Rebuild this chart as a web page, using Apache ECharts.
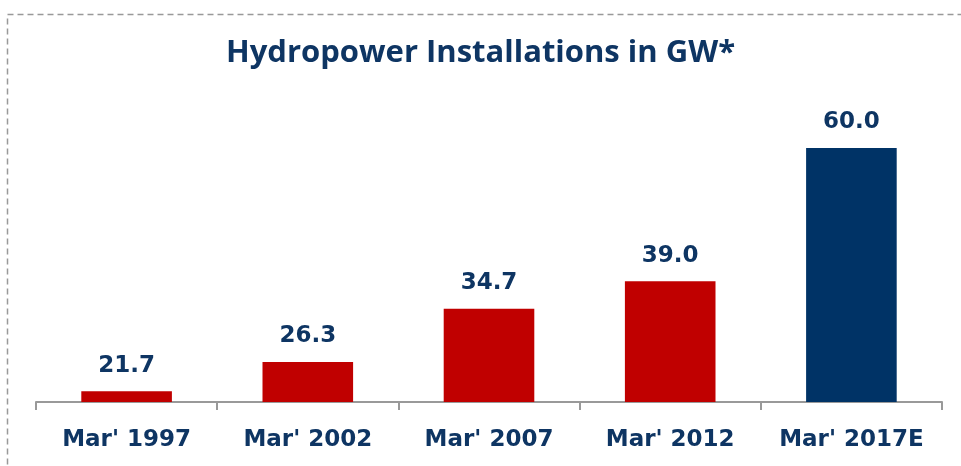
<!DOCTYPE html>
<html>
<head>
<meta charset="utf-8">
<script src="https://cdn.jsdelivr.net/npm/echarts@6/dist/echarts.min.js"></script>
<style>
  html, body { margin: 0; padding: 0; background: #fff; }
  #d { width: 961px; height: 466px; }
</style>
</head>
<body>
<div id="d"></div>
<script>
var cats = ["Mar' 1997", "Mar' 2002", "Mar' 2007", "Mar' 2012", "Mar' 2017E"];
var vals = [21.7, 26.3, 34.7, 39.0, 60.0];
var cols = ['#C00000', '#C00000', '#C00000', '#C00000', '#003366'];

var myChart = echarts.init(document.getElementById('d'));
var data = [];
for (var i = 0; i < vals.length; i++) {
  data.push({ value: vals[i], itemStyle: { color: cols[i] } });
}
var option = {
  animation: false,
  title: {
    text: 'Hydropower Installations in GW*',
    left: 'center',
    top: 33,
    textStyle: {
      fontFamily: 'Open Sans',
      fontSize: 31,
      fontWeight: 'bold',
      color: '#0E3563'
    }
  },
  graphic: [{
    type: 'rect',
    shape: { x: 7.5, y: 14.5, width: 1000, height: 500 },
    style: { fill: 'none', stroke: '#999', lineWidth: 1.5, lineDash: [6, 4] },
    silent: true
  }],
  grid: { left: 36, right: 19, top: 148, bottom: 64 },
  xAxis: {
    type: 'category',
    data: cats,
    axisLine: { lineStyle: { color: '#999', width: 2 } },
    axisTick: { show: true, interval: 0, length: 8, lineStyle: { color: '#999', width: 2 } },
    axisLabel: {
      interval: 0,
      margin: 27,
      fontFamily: 'DejaVu Sans',
      fontWeight: 'bold',
      fontSize: 23,
      color: '#0E3563'
    }
  },
  yAxis: {
    type: 'value',
    min: 20,
    max: 60,
    show: false,
    splitLine: { show: false }
  },
  series: [{
    type: 'bar',
    data: data,
    barWidth: '50%',
    label: {
      show: true,
      position: 'top',
      distance: 14,
      formatter: function (p) { return p.value.toFixed(1); },
      fontFamily: 'DejaVu Sans',
      fontWeight: 'bold',
      fontSize: 23,
      color: '#0E3563'
    }
  }]
};
option && myChart.setOption(option);
</script>
</body>
</html>
